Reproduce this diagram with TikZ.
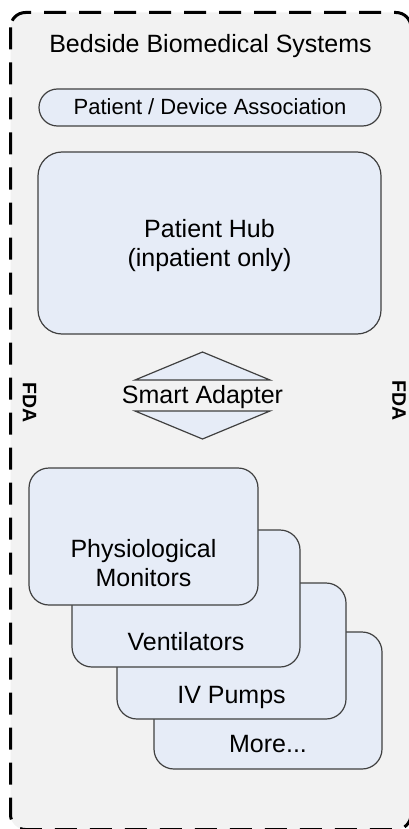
\documentclass[tikz,border=0pt]{standalone}
\usepackage{fontspec}
\setmainfont{Liberation Sans}
\definecolor{panelgray}{HTML}{F2F2F2}
\definecolor{boxfill}{HTML}{E6ECF7}
\definecolor{boxline}{HTML}{404040}
\begin{document}
\begin{tikzpicture}[x=1pt,y=-1pt,
  panelframe/.style={fill=panelgray,draw=black,line width=3pt,
    dash pattern=on 22pt off 13pt,rounded corners=15pt},
  roundbox/.style={draw=boxline,fill=boxfill,line width=1.2pt,
    rounded corners=20pt,inner sep=0pt},
  tri/.style={draw=boxline,fill=boxfill,line width=1.2pt,line join=miter},
  label/.style={inner sep=0pt,anchor=base,font=\fontsize{25}{29}\selectfont},
  smalllabel/.style={inner sep=0pt,anchor=base,font=\fontsize{22}{26}\selectfont},
  fda/.style={inner sep=0pt,rotate=-90,font=\fontsize{19.5}{22}\selectfont\bfseries}]
\useasboundingbox (0,0) rectangle (409,829);

% outer dashed panel
\draw[panelframe] (10.5,12.5) rectangle (411,829.5);

\node[label] (title) at (210.5,53) {Bedside Biomedical Systems};

% association bar
\node[roundbox,rounded corners=18.5pt,minimum width=342pt,minimum height=37pt]
  (assoc) at (210,107.5) {};
\node[smalllabel] (assoctext) at (210,115) {Patient / Device Association};

% hub
\node[roundbox,rounded corners=24pt,minimum width=343pt,minimum height=182pt]
  (hub) at (209.5,243) {};
\node[label] (hub1) at (209.5,237) {Patient Hub};
\node[label] (hub2) at (209.5,266) {(inpatient only)};

% smart adapter: two triangles around the label
\coordinate (atl) at (135,380);
\coordinate (atr) at (270,380);
\coordinate (atop) at (202.5,352);
\coordinate (abl) at (135,411);
\coordinate (abr) at (270,411);
\coordinate (abot) at (202.5,439);
\draw[tri] (atl) -- (atop) -- (atr) -- cycle;
\draw[tri] (abl) -- (abot) -- (abr) -- cycle;
\node[label] (adapter) at (202.5,403) {Smart Adapter};

% FDA side labels
\node[fda] (fdaL) at (29.5,402.5) {FDA};
\node[fda] (fdaR) at (399,401) {FDA};

% stacked device boxes, back to front
\node[roundbox,minimum width=228pt,minimum height=137pt] (more) at (268,700.5) {};
\node[label] (moretext) at (268,752) {More...};
\node[roundbox,minimum width=229pt,minimum height=136pt] (pumps) at (231.5,651) {};
\node[label] (pumpstext) at (231.5,703) {IV Pumps};
\node[roundbox,minimum width=228pt,minimum height=137pt] (vent) at (186,598.5) {};
\node[label] (venttext) at (186,650) {Ventilators};
\node[roundbox,minimum width=229pt,minimum height=137pt] (phys) at (143.5,536.5) {};
\node[label] (phys1) at (143.5,557) {Physiological};
\node[label] (phys2) at (143.5,586.5) {Monitors};
\end{tikzpicture}
\end{document}
